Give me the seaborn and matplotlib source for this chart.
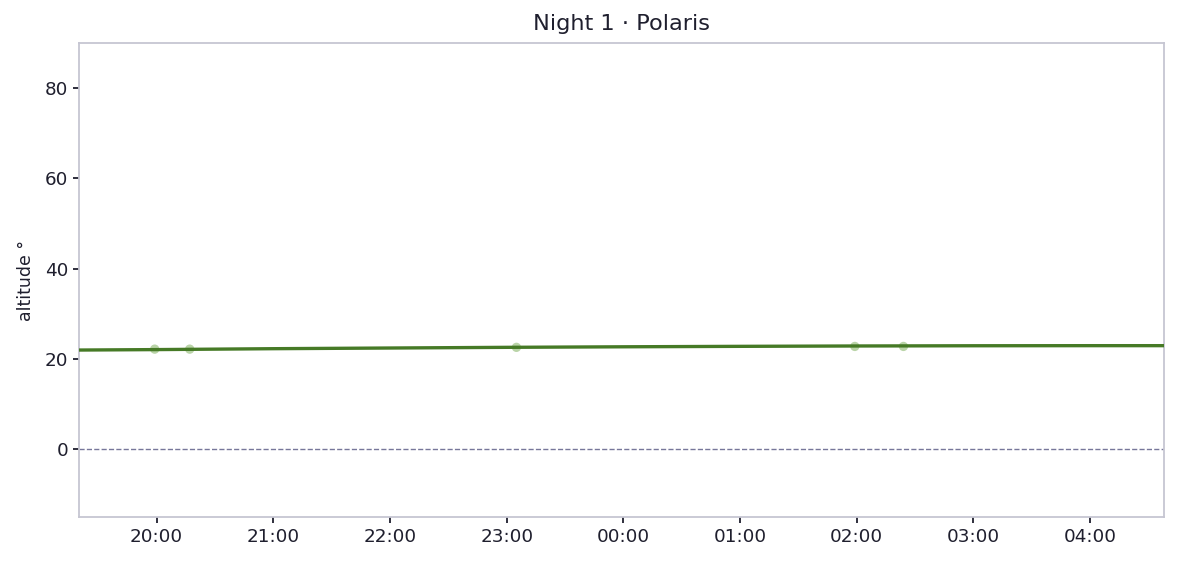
import matplotlib
matplotlib.use("Agg")
import matplotlib.pyplot as plt
import matplotlib.dates as mdates
import pandas as pd
import seaborn as sns

# altitude track of Polaris over the night
track_times = ["2024-01-01 19:20", "2024-01-01 20:00", "2024-01-01 21:00", "2024-01-01 22:00",
               "2024-01-01 23:00", "2024-01-02 00:00", "2024-01-02 01:00", "2024-01-02 02:00",
               "2024-01-02 03:00", "2024-01-02 04:00", "2024-01-02 04:38"]
track_alt = [22.0, 22.1, 22.3, 22.45, 22.6, 22.72, 22.82, 22.9, 22.95, 22.97, 22.97]

# observed points
obs_times = ["2024-01-01 19:59", "2024-01-01 20:17", "2024-01-01 23:05",
             "2024-01-02 01:59", "2024-01-02 02:24"]
obs_alt = [22.2, 22.2, 22.6, 22.8, 22.8]

track = pd.DataFrame({"time": pd.to_datetime(track_times), "alt": track_alt})
obs = pd.DataFrame({"time": pd.to_datetime(obs_times), "alt": obs_alt})

sns.set_style("white")
plt.rcParams['font.family'] = ['DejaVu Sans']
text_col = "#1f1f2e"
spine_col = "#c6c6d2"

fig, ax = plt.subplots(figsize=(11.77, 5.64), dpi=100)
fig.subplots_adjust(left=0.067, right=0.989, top=0.924, bottom=0.083)

sns.scatterplot(data=obs, x="time", y="alt", ax=ax, color="#8cb86e", alpha=0.6,
                s=45, edgecolor="none", zorder=2)
sns.lineplot(data=track, x="time", y="alt", ax=ax, color="#467a26", linewidth=2.4, zorder=3)
ax.axhline(0, color="#77779a", linestyle="--", linewidth=1)

ax.set_xlim(pd.Timestamp("2024-01-01 19:20"), pd.Timestamp("2024-01-02 04:38"))
ax.set_ylim(-15, 90)
ax.set_yticks([0, 20, 40, 60, 80])
ax.xaxis.set_major_locator(mdates.HourLocator())
ax.xaxis.set_major_formatter(mdates.DateFormatter("%H:%M"))

ax.set_title("Night 1 · Polaris", fontsize=16.2, color=text_col, pad=9)
ax.set_xlabel("")
ax.set_ylabel("altitude °", fontsize=12.5, color=text_col, labelpad=7)
ax.tick_params(axis="both", labelsize=13.2, colors=text_col, length=4, width=1.3,
               direction="out", bottom=True, left=True)
for sp in ax.spines.values():
    sp.set_color(spine_col)
    sp.set_linewidth(1.3)

fig.savefig("out.png", dpi=100)
